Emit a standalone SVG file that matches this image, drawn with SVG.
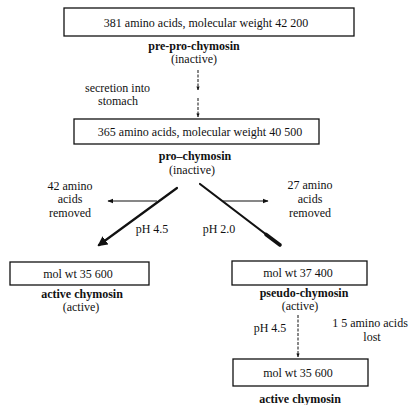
<svg xmlns="http://www.w3.org/2000/svg" width="411" height="405" viewBox="0 0 411 405">
<style>
text{font-family:"Liberation Serif","DejaVu Serif",serif;font-size:12px;fill:#111;text-anchor:middle}
.b{font-weight:bold}
.l{text-anchor:start}
.box{fill:#fff;stroke:#111;stroke-width:1.3}
.dash{stroke:#111;stroke-width:1;stroke-dasharray:3,1.5;fill:none}
.thick{stroke:#111;stroke-width:2.2;fill:none;stroke-linecap:round}
.thin{stroke:#111;stroke-width:1.2;fill:none}
</style>
<defs>
<marker id="ah" viewBox="0 0 10 10" refX="9" refY="5" markerWidth="6" markerHeight="6" orient="auto" markerUnits="userSpaceOnUse"><path d="M0,1 L10,5 L0,9 z" fill="#111"/></marker>
<marker id="ahs" viewBox="0 0 10 10" refX="9" refY="5" markerWidth="4" markerHeight="4" orient="auto" markerUnits="userSpaceOnUse"><path d="M0,1 L10,5 L0,9 z" fill="#111"/></marker>
<marker id="ahb" viewBox="0 0 10 10" refX="8" refY="5" markerWidth="10" markerHeight="10" orient="auto" markerUnits="userSpaceOnUse"><path d="M0,0 L10,5 L0,10 z" fill="#111"/></marker>
</defs>
<g id="connectors">
<line class="dash" x1="198" y1="70" x2="198" y2="90" marker-end="url(#ahs)"/>
<line class="dash" x1="198" y1="98" x2="198" y2="117" marker-end="url(#ahs)"/>
<line class="thick" x1="177" y1="188" x2="99" y2="245" marker-end="url(#ahb)"/>
<line class="thin" x1="157" y1="201" x2="108" y2="201" marker-end="url(#ah)"/>
<line class="thick" x1="200" y1="184" x2="280" y2="245"/>
<line stroke="#111" stroke-width="3.6" stroke-linecap="round" x1="266" y1="234.5" x2="280" y2="245"/>
<line class="thin" x1="223" y1="201" x2="268" y2="201" marker-end="url(#ah)"/>
<line class="dash" x1="298" y1="315" x2="298" y2="357" marker-end="url(#ahs)"/>
</g>
<g id="n1">
<rect class="box" x="64" y="8" width="290" height="28"/>
<text x="206" y="27">381 amino acids, molecular weight 42 200</text>
<text class="b" x="194" y="50">pre-pro-chymosin</text>
<text x="194" y="63">(inactive)</text>
</g>
<g id="secretion">
<text class="l" x="85" y="92">secretion into</text>
<text class="l" x="98" y="105">stomach</text>
</g>
<g id="n2">
<rect class="box" x="74" y="119" width="245" height="25"/>
<text x="200" y="136">365  amino acids, molecular weight 40 500</text>
<text class="b" x="195" y="160">pro–chymosin</text>
<text x="192" y="174">(inactive)</text>
</g>
<g id="left-label">
<text x="70" y="190">42 amino</text>
<text x="70" y="203">acids</text>
<text x="70" y="217">removed</text>
<text x="152" y="233">pH 4.5</text>
</g>
<g id="right-label">
<text x="310" y="189">27 amino</text>
<text x="310" y="203">acids</text>
<text x="310" y="217">removed</text>
<text x="219" y="233">pH  2.0</text>
</g>
<g id="n3">
<rect class="box" x="10" y="262" width="139" height="23"/>
<text x="78" y="278">mol wt 35 600</text>
<text class="b" x="82" y="298">active chymosin</text>
<text x="81" y="311">(active)</text>
</g>
<g id="n4">
<rect class="box" x="232" y="261" width="135" height="24"/>
<text x="298" y="277">mol wt 37 400</text>
<text class="b" x="304" y="297">pseudo-chymosin</text>
<text x="300" y="310">(active)</text>
</g>
<g id="lower-label">
<text x="270" y="332">pH 4.5</text>
<text x="370" y="327">1 5 amino acids</text>
<text x="372" y="341">lost</text>
</g>
<g id="n5">
<rect class="box" x="233" y="359" width="135" height="27"/>
<text x="298" y="377">mol wt 35 600</text>
<text class="b" x="300" y="403">active chymosin</text>
</g>
</svg>
